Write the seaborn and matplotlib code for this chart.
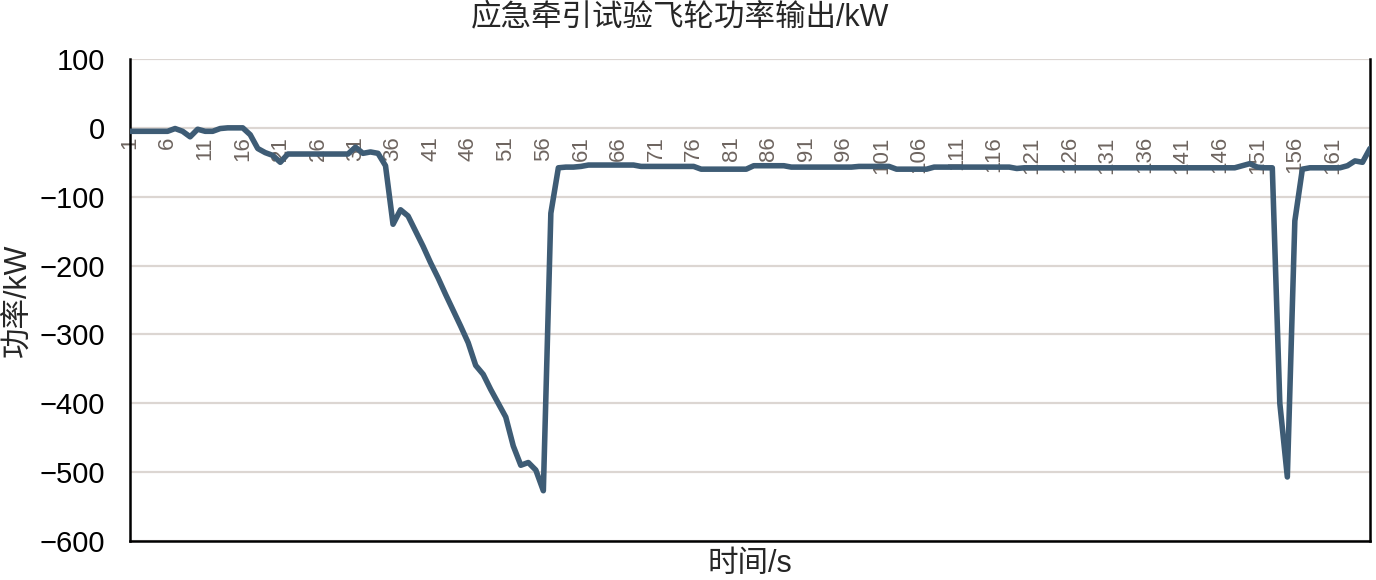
import matplotlib
matplotlib.use("Agg")
import matplotlib.pyplot as plt
import seaborn as sns
import pandas as pd

# ---- data ----
time_index = list(range(1, 167))
power_kw = [
    -5, -5, -5, -5, -5, -5, -1, -5, -13, -2,
    -5, -5, -1, 0, 0, 0, -10, -30, -36, -40,
    -50, -38, -38, -38, -38, -38, -38, -38, -38, -38,
    -28, -37, -35, -37, -55, -140, -119, -128, -150, -172,
    -196, -218, -242, -265, -288, -312, -345, -358, -380, -400,
    -420, -462, -490, -486, -497, -527, -124, -58, -57, -57,
    -56, -54, -54, -54, -54, -54, -54, -54, -56, -56,
    -56, -56, -56, -56, -56, -56, -60, -60, -60, -60,
    -60, -60, -60, -55, -55, -55, -55, -55, -57, -57,
    -57, -57, -57, -57, -57, -57, -57, -56, -56, -56,
    -56, -56, -60, -60, -60, -60, -60, -57, -57, -57,
    -57, -57, -57, -57, -57, -57, -57, -57, -59, -58,
    -58, -58, -58, -58, -58, -58, -58, -58, -58, -58,
    -58, -58, -58, -58, -58, -58, -58, -58, -58, -58,
    -58, -58, -58, -58, -58, -58, -58, -58, -55, -52,
    -57, -58, -58, -400, -507, -135, -60, -58, -58, -58,
    -58, -58, -55, -48, -50, -30,
]
x_tick_values = [1, 6, 11, 16, 21, 26, 31, 36, 41, 46, 51, 56, 61, 66, 71, 76,
                 81, 86, 91, 96, 101, 106, 111, 116, 121, 126, 131, 136, 141,
                 146, 151, 156, 161]
x_tick_labels = [str(v) for v in x_tick_values]
y_ticks = [100, 0, -100, -200, -300, -400, -500, -600]

title_text = "应急牵引试验飞轮功率输出/kW"
x_label = "时间/s"
y_label = "功率/kW"

df = pd.DataFrame({"t": time_index, "p": power_kw})

# ---- style ----
sns.set_style("white")
plt.rcParams["font.family"] = ["Liberation Sans", "Noto Sans CJK SC", "DejaVu Sans"]
plt.rcParams["axes.unicode_minus"] = True

fig = plt.figure(figsize=(13.76, 5.80), dpi=100)
ax = fig.add_axes([130 / 1376, 1 - 541 / 580, 1240 / 1376, 482 / 580])

sns.lineplot(data=df, x="t", y="p", ax=ax, color="#3e5c75", linewidth=4.0,
             solid_joinstyle="round", zorder=3)

ax.set_xlim(1, 166)
ax.set_ylim(-600, 100)
ax.set_yticks(y_ticks)
ax.tick_params(axis="y", length=0, pad=18, labelsize=21, labelcolor="black")
ax.set_xticks([])
ax.grid(axis="y", color="#dcd6d2", linewidth=1.6, zorder=0)
ax.grid(axis="x", visible=False)

for side in ["left", "right", "bottom"]:
    ax.spines[side].set_visible(True)
    ax.spines[side].set_color("black")
    ax.spines[side].set_linewidth(1.8)
ax.spines["top"].set_visible(False)

# category labels sitting just below the zero line
sec = ax.secondary_xaxis(600 / 700)
sec.xaxis.set_ticks_position("bottom")
sec.xaxis.set_label_position("bottom")
sec.set_xticks(x_tick_values)
sec.set_xticklabels(x_tick_labels, rotation=90)
sec.tick_params(axis="x", which="both", bottom=True, top=False,
                labelbottom=True, labeltop=False,
                length=0, pad=6, labelsize=16, labelcolor="#6e6560")
for s in sec.spines.values():
    s.set_visible(False)

ax.set_xlabel(x_label, fontsize=22, labelpad=6)
ax.set_ylabel(y_label, fontsize=22, labelpad=4)

fig.text(680 / 1376, 1 - 17 / 580, title_text, ha="center", va="center", fontsize=22)

fig.savefig("out.png", dpi=100)
